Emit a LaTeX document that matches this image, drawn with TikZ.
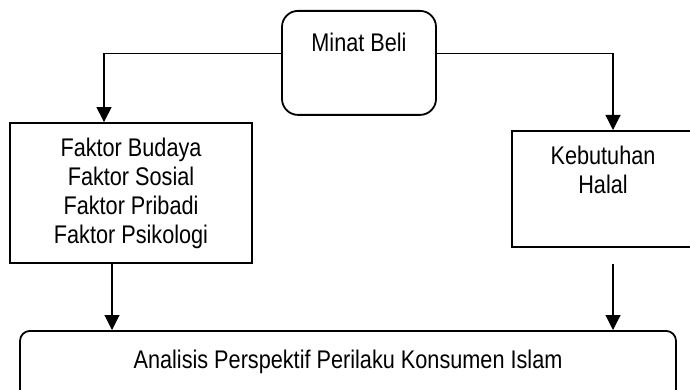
\documentclass[tikz,border=0pt]{standalone}
\usepackage{fontspec}
\setmainfont[FakeStretch=0.85]{Liberation Sans}
\usetikzlibrary{arrows.meta,calc,positioning}

\begin{document}
\begin{tikzpicture}
[x=1pt,y=-1pt,>={Triangle[length=15pt,width=15pt]},font=\fontsize{25.5}{29}\selectfont]
\tikzstyle{rbox}=[draw,line width=1.8pt,rounded corners=16pt,inner sep=0pt]
\tikzstyle{sbox}=[draw,line width=1.8pt,inner sep=0pt,align=center]
\tikzstyle{conn}=[->,line width=1.1pt]

\useasboundingbox (0,0) rectangle (690,390);

\node[rbox,minimum width=154pt,text height=40.7pt,text depth=63.3pt] (minat) at (359,10) [anchor=north] {Minat Beli};
\node[sbox,minimum width=242pt,minimum height=140pt] (faktor) at (131,193) {Faktor Budaya\\Faktor Sosial\\Faktor Pribadi\\Faktor Psikologi};
\node[sbox,minimum width=182pt,text height=63pt,text depth=53pt] (halal) at (603,130) [anchor=north] {Kebutuhan\\Halal};
\node[rbox,rounded corners=10pt,minimum width=656pt,text height=38pt,text depth=32pt] (analisis) at (348,330) [anchor=north] {Analisis Perspektif Perilaku Konsumen Islam};

\draw[conn] ([yshift=9pt]minat.west) -| ([xshift=-27pt]faktor.north);
\draw[conn] ([yshift=9pt]minat.east) -| ([xshift=10pt]halal.north);
\draw[conn] ([xshift=-19pt]faktor.south) -- ([xshift=-19pt]faktor.south |- analisis.north);
\draw[conn] ([xshift=10pt,yshift=-16pt]halal.south) -- ([xshift=10pt]halal.south |- analisis.north);
\end{tikzpicture}
\end{document}
